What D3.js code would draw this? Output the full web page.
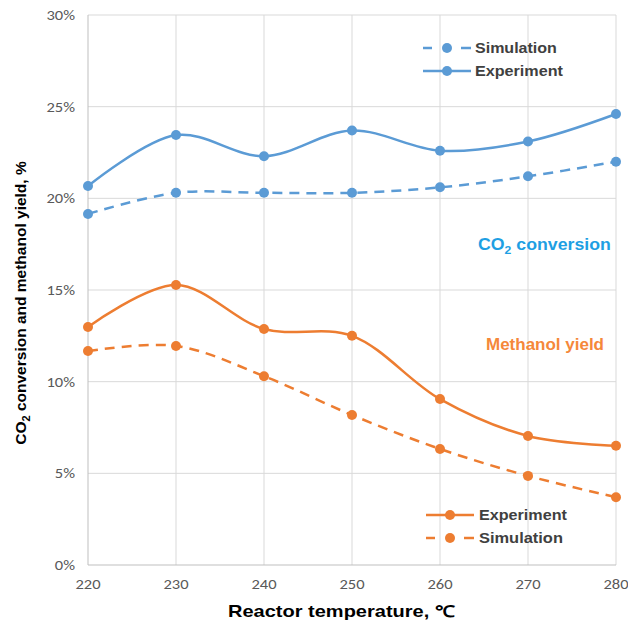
<!DOCTYPE html>
<html><head><meta charset="utf-8">
<script src="https://cdn.jsdelivr.net/npm/d3@7"></script>
<style>body{margin:0;background:#fff}svg{display:block}</style>
</head><body>
<svg id="c" width="628" height="635"></svg>
<script>
const temps = [220, 230, 240, 250, 260, 270, 280];
const co2Experiment = [20.67, 23.45, 22.3, 23.7, 22.6, 23.1, 24.6];
const co2Simulation = [19.15, 20.3, 20.3, 20.3, 20.6, 21.2, 22.0];
const meohExperiment = [12.98, 15.27, 12.87, 12.5, 9.05, 7.04, 6.5];
const meohSimulation = [11.67, 11.95, 10.3, 8.18, 6.33, 4.86, 3.7];
const yTicks = [0, 5, 10, 15, 20, 25, 30];

const svg = d3.select("#c");
const x = d3.scaleLinear().domain([220, 280]).range([88, 616]);
const y = d3.scaleLinear().domain([0, 30]).range([565, 15]);
const blue = "#5B9BD5", orange = "#ED7D31";
const boldFont = "Liberation Sans, Arial, sans-serif";

function fit(t, x0, yb, w) {
  const len = t.node().getComputedTextLength();
  t.attr("x", 0).attr("y", 0).attr("transform", `translate(${x0},${yb}) scale(${w / len},1)`);
}

// gridlines
svg.append("g").selectAll("line").data(yTicks.slice(1)).join("line")
  .attr("x1", 88).attr("x2", 616).attr("y1", d => y(d)).attr("y2", d => y(d))
  .attr("stroke", "#d9d9d9").attr("stroke-width", 1);
svg.append("g").selectAll("line").data(temps.slice(1)).join("line")
  .attr("x1", d => x(d)).attr("x2", d => x(d)).attr("y1", y(0)).attr("y2", y(30))
  .attr("stroke", "#d9d9d9").attr("stroke-width", 1);
svg.append("line").attr("x1", 88).attr("x2", 616).attr("y1", y(0)).attr("y2", y(0)).attr("stroke", "#bfbfbf");
svg.append("line").attr("x1", 88).attr("x2", 88).attr("y1", y(0)).attr("y2", y(30)).attr("stroke", "#bfbfbf");

const tickFont = "Carlito, Lato, 'Open Sans', sans-serif";
svg.append("g").selectAll("text").data(yTicks).join("text")
  .attr("transform", d => `translate(75,${y(d) + 5}) scale(1.18,1)`).attr("text-anchor", "end")
  .attr("font-family", tickFont).attr("font-size", 14).attr("fill", "#595959")
  .text(d => d + "%");
svg.append("g").selectAll("text").data(temps).join("text")
  .attr("transform", d => `translate(${x(d)},589) scale(1.18,1)`).attr("text-anchor", "middle")
  .attr("font-family", tickFont).attr("font-size", 14).attr("fill", "#595959")
  .text(d => d);

// axis titles
const xt = svg.append("text").attr("font-family", boldFont).attr("font-weight", "bold")
  .attr("font-size", 16).attr("fill", "#000").text("Reactor temperature, \u2103");
fit(xt, 228, 617, 227);
const yt = svg.append("text").attr("transform", "translate(26,303) rotate(-90)")
  .attr("text-anchor", "middle")
  .attr("font-family", boldFont).attr("font-weight", "bold")
  .attr("font-size", 15.5).attr("fill", "#000");
yt.append("tspan").text("CO");
yt.append("tspan").attr("font-size", 11).attr("dy", 4).text("2");
yt.append("tspan").attr("dy", -4).text(" conversion and methanol yield, %");

const line = d3.line().x((d, i) => x(temps[i])).y(d => y(d)).curve(d3.curveCatmullRom.alpha(0.5));
function series(vals, color, dashed) {
  svg.append("path").attr("d", line(vals)).attr("fill", "none").attr("stroke", color)
    .attr("stroke-width", 2.5).attr("stroke-dasharray", dashed ? "10,7" : null);
  svg.append("g").selectAll("circle").data(vals).join("circle")
    .attr("cx", (d, i) => x(temps[i])).attr("cy", d => y(d)).attr("r", 5).attr("fill", color);
}
series(co2Simulation, blue, true);
series(co2Experiment, blue, false);
series(meohSimulation, orange, true);
series(meohExperiment, orange, false);

// legends
function legendItem(lx, ly, color, dashed, label, tx, tw) {
  if (dashed) {
    [[lx, lx + 9], [lx + 38, lx + 48]].forEach(s =>
      svg.append("line").attr("x1", s[0]).attr("x2", s[1]).attr("y1", ly).attr("y2", ly)
        .attr("stroke", color).attr("stroke-width", 2.5));
  } else {
    svg.append("line").attr("x1", lx).attr("x2", lx + 48).attr("y1", ly).attr("y2", ly)
      .attr("stroke", color).attr("stroke-width", 2.5);
  }
  svg.append("circle").attr("cx", lx + 24).attr("cy", ly).attr("r", 5).attr("fill", color);
  const t = svg.append("text")
    .attr("font-family", boldFont).attr("font-weight", "bold")
    .attr("font-size", 14.5).attr("fill", "#404040").text(label);
  fit(t, tx, ly + 5, tw);
}
legendItem(423, 48, blue, true, "Simulation", 475, 82);
legendItem(423, 71, blue, false, "Experiment", 475, 88);
legendItem(426, 515, orange, false, "Experiment", 479, 88);
legendItem(426, 538, orange, true, "Simulation", 479, 84);

// annotations
const co = svg.append("text")
  .attr("font-family", boldFont).attr("font-weight", "bold")
  .attr("font-size", 16).attr("fill", "#1E9FE3");
co.append("tspan").text("CO");
co.append("tspan").attr("font-size", 11).attr("dy", 4).text("2");
co.append("tspan").attr("dy", -4).text(" conversion");
{
  const len = co.node().getBBox().width;
  co.attr("transform", `translate(478,250) scale(${133 / len},1)`);
}
const mt = svg.append("text")
  .attr("font-family", boldFont).attr("font-weight", "bold")
  .attr("font-size", 16).attr("fill", "#F5883A").text("Methanol yield");
fit(mt, 486, 350, 118);
</script>
</body></html>
